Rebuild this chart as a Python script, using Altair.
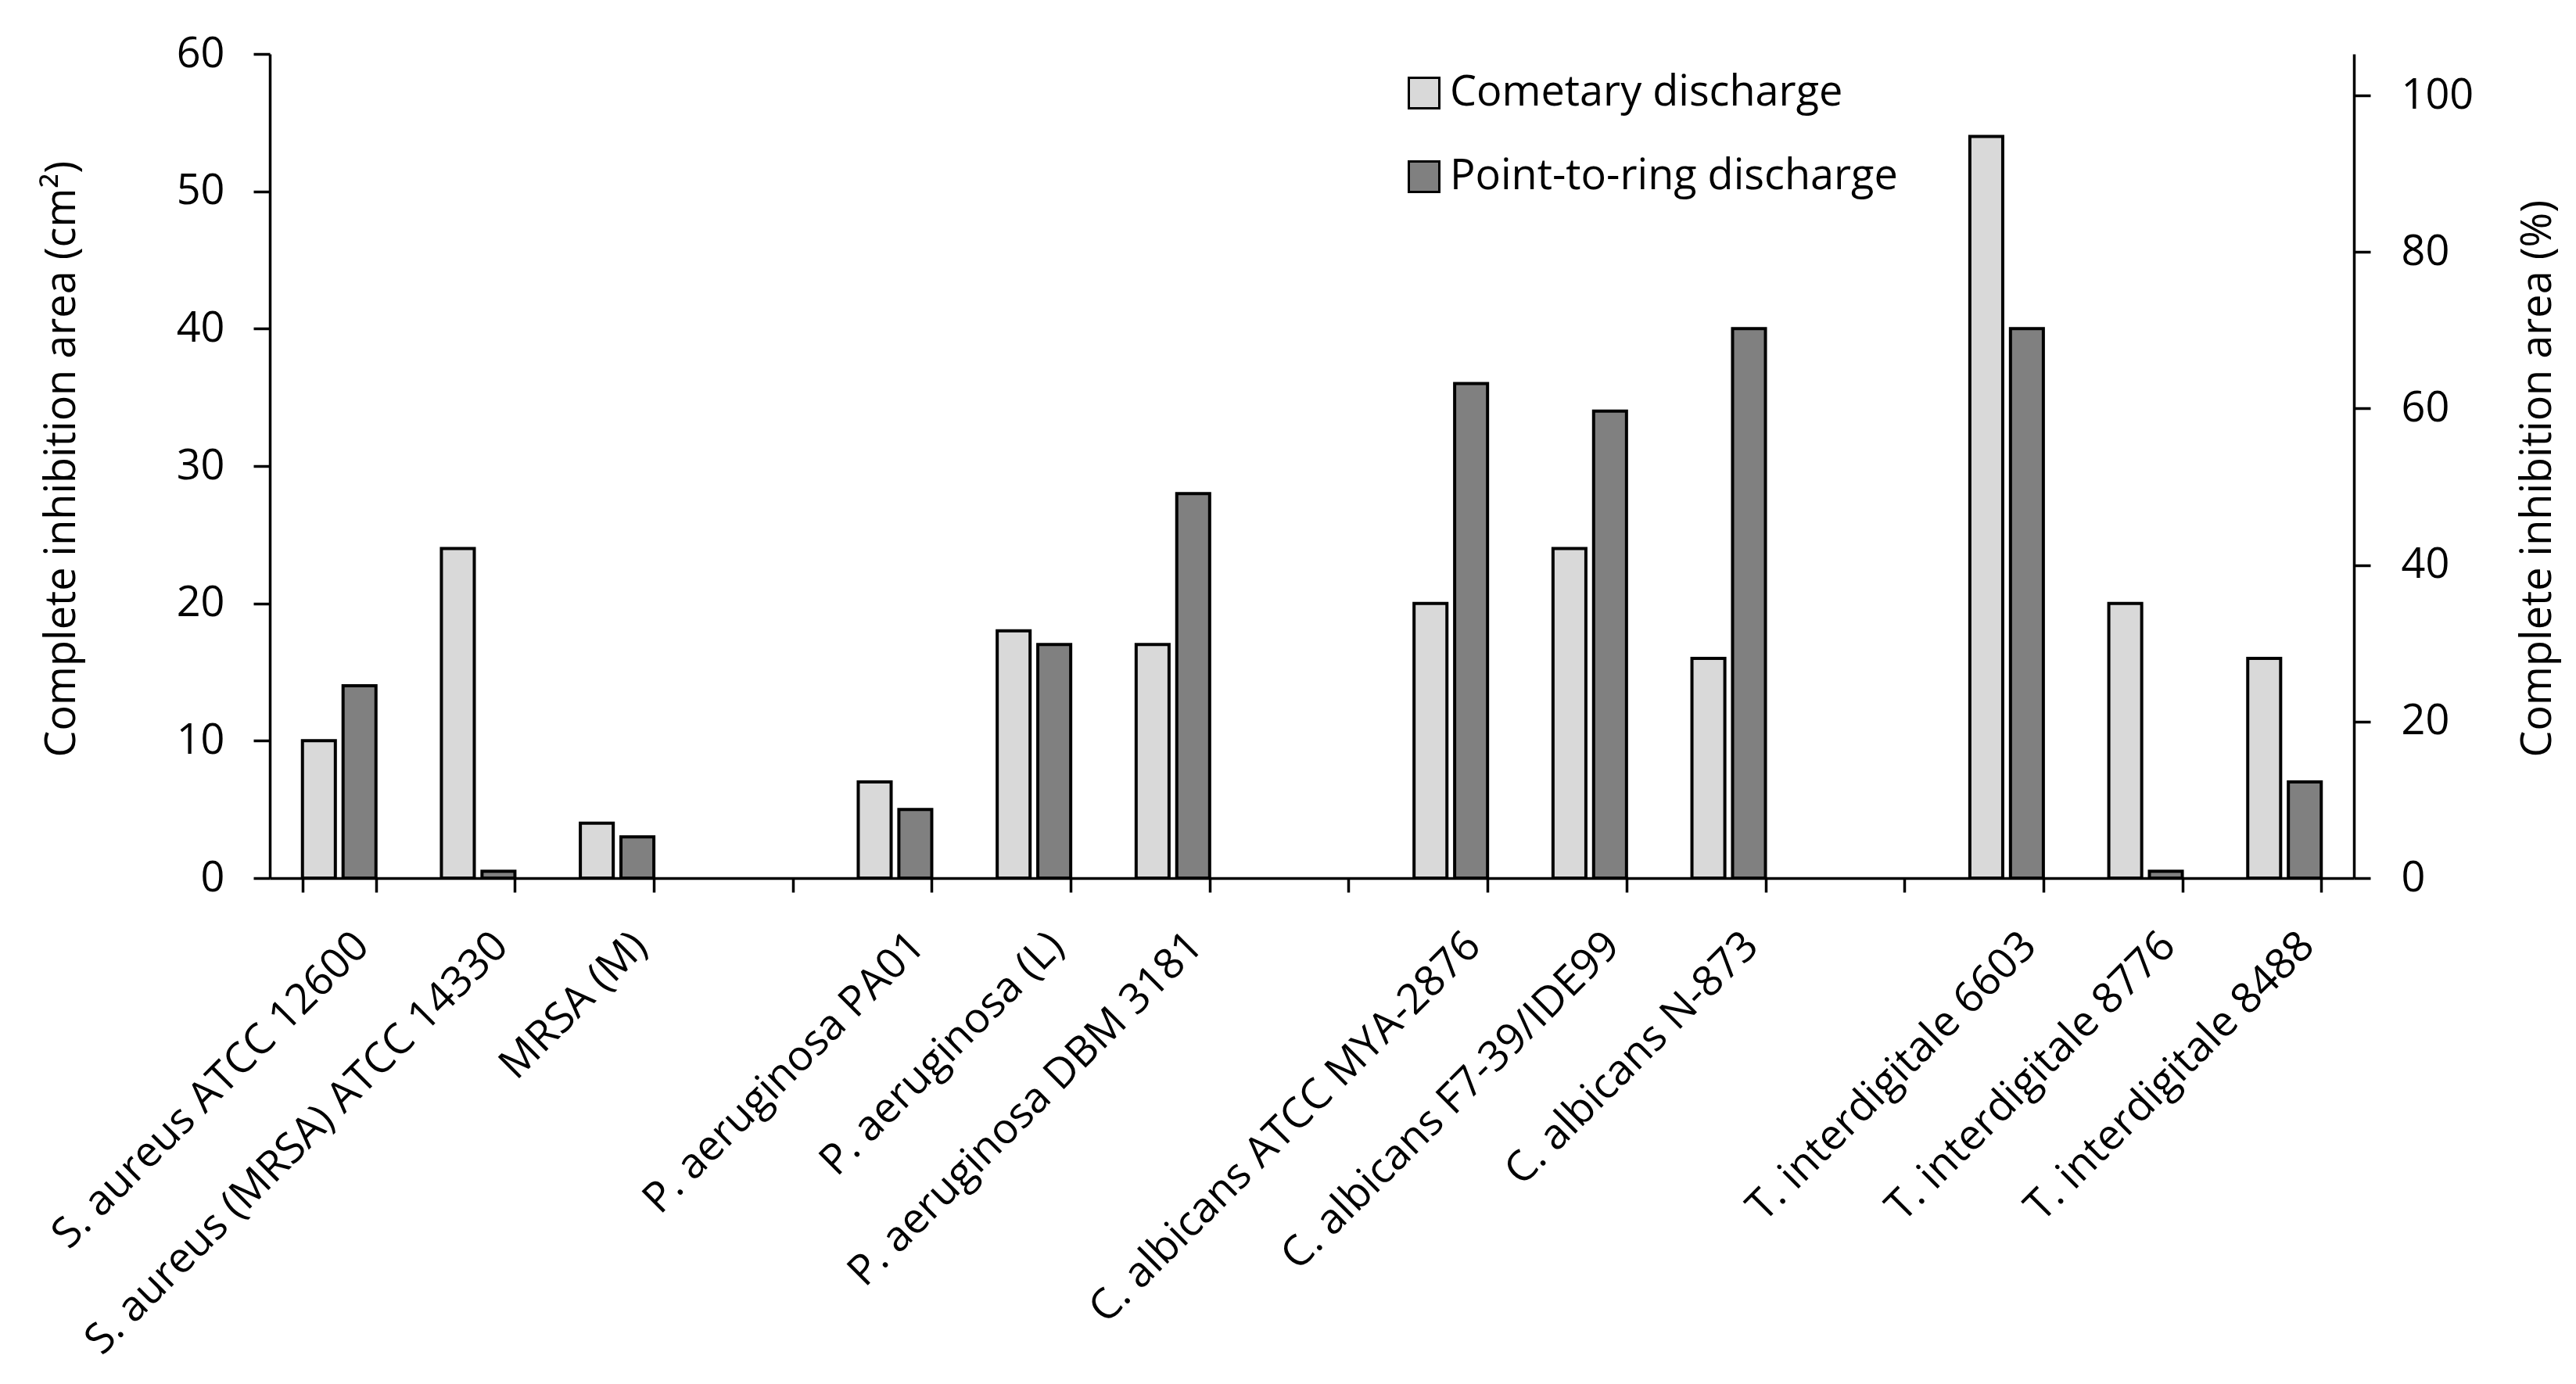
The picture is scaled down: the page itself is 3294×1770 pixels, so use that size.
import altair as alt
import pandas as pd

# ---- data ----
categories = [
    "S. aureus ATCC 12600", "S. aureus (MRSA) ATCC 14330", "MRSA (M)", "gap1",
    "P. aeruginosa PA01", "P. aeruginosa (L)", "P. aeruginosa DBM 3181", "gap2",
    "C. albicans ATCC MYA-2876", "C. albicans F7-39/IDE99", "C. albicans N-873", "gap3",
    "T. interdigitale 6603", "T. interdigitale 8776", "T. interdigitale 8488",
]
strains = [c for c in categories if not c.startswith("gap")]
cometary = [10, 24, 4, 7, 18, 17, 20, 24, 16, 54, 20, 16]
point_to_ring = [14, 0.5, 3, 5, 17, 28, 36, 34, 40, 40, 0.5, 7]
series_names = ["Cometary discharge", "Point-to-ring discharge"]
series_colors = ["#d9d9d9", "#808080"]
left_ticks = [0, 10, 20, 30, 40, 50, 60]
right_ticks = [0, 20, 40, 60, 80, 100]
right_axis_max = 105.3

rows = []
for s, c, p in zip(strains, cometary, point_to_ring):
    rows.append({"strain": s, "series": series_names[0], "area": c})
    rows.append({"strain": s, "series": series_names[1], "area": p})
df = pd.DataFrame(rows)
pct_df = pd.DataFrame({"pct": [0, right_axis_max]})

FONT = "Open Sans"
FS = 54

bars = alt.Chart(df).mark_bar(stroke="black", strokeWidth=4).encode(
    x=alt.X(
        "strain:N",
        sort=categories,
        scale=alt.Scale(domain=categories, paddingInner=0.471, paddingOuter=0.235),
        axis=alt.Axis(
            title=None,
            labelAngle=-45,
            labelAlign="right",
            labelBaseline="top",
            labelPadding=41,
            labelOffset=10,
            labelFontSize=FS,
            labelLimit=2000,
            labelOverlap=False,
            tickBand="extent",
            tickSize=18,
            labelExpr="indexof(datum.label, 'gap') == 0 ? '' : datum.label",
        ),
    ),
    xOffset=alt.XOffset(
        "series:N", sort=series_names,
        scale=alt.Scale(domain=series_names, paddingInner=0.19),
    ),
    y=alt.Y(
        "area:Q",
        scale=alt.Scale(domain=[0, 60], nice=False, padding=0),
        axis=alt.Axis(
            title="Complete inhibition area (cm²)",
            values=left_ticks,
            tickSize=21,
            labelPadding=37,
            titleX=-266,
            titleY=899,
            titleAngle=-90,
            titleAlign="left",
            titleBaseline="middle",
        ),
    ),
    color=alt.Color(
        "series:N",
        scale=alt.Scale(domain=series_names, range=series_colors),
        legend=alt.Legend(
            title=None,
            orient="none",
            legendX=1449,
            legendY=23,
            symbolType="square",
            symbolSize=1521,
            symbolStrokeColor="black",
            symbolStrokeWidth=3,
            labelFont=FONT,
            labelFontSize=FS,
            labelColor="black",
            labelOffset=6,
            rowPadding=53,
            padding=0,
            labelLimit=2000,
        ),
    ),
)

right_axis = alt.Chart(pct_df).mark_point(opacity=0).encode(
    y=alt.Y(
        "pct:Q",
        scale=alt.Scale(domain=[0, right_axis_max], nice=False, padding=0),
        axis=alt.Axis(
            orient="right",
            title="Complete inhibition area (%)",
            values=right_ticks,
            tickSize=21,
            labelPadding=39,
            titleX=235,
            titleY=899,
            titleAngle=-90,
            titleAlign="left",
            titleBaseline="middle",
        ),
    )
)

chart = (
    alt.layer(bars, right_axis)
    .resolve_scale(y="independent")
    .properties(
        width=2665,
        height=1054,
        autosize=alt.AutoSizeParams(type="none"),
        padding={"left": 337, "top": 61, "right": 270, "bottom": 630},
        background="white",
    )
    .configure_view(stroke=None)
    .configure_axis(
        labelFont=FONT,
        titleFont=FONT,
        labelFontSize=FS,
        titleFontSize=FS,
        titleFontWeight="normal",
        labelColor="black",
        titleColor="black",
        domainColor="black",
        domainWidth=3.5,
        tickColor="black",
        tickWidth=3.5,
        grid=False,
    )
)

chart.save("out.html", embed_options={"renderer": "svg", "actions": False})
